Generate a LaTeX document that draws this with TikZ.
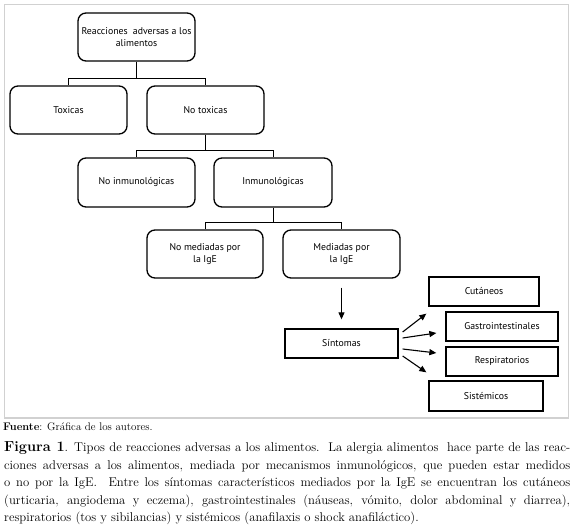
\documentclass[tikz,border=0pt]{standalone}
\usepackage{fontspec}
\newfontfamily\boxfont{PT Sans}
\usetikzlibrary{arrows.meta}
\begin{document}
\begin{tikzpicture}[x=1pt,y=-1pt,
  rbox/.style={draw=black, line width=1.3pt, rounded corners=8pt, minimum width=117pt, minimum height=48pt, inner sep=0pt, align=center, font=\boxfont\fontsize{9.8}{12.5}\selectfont},
  sbox/.style={draw=black, line width=1.3pt, minimum height=29pt, inner sep=0pt, align=center, font=\boxfont\fontsize{9.8}{12.5}\selectfont},
  tree/.style={line width=1pt},
  arr/.style={line width=1.1pt, -{Triangle[length=7pt,width=6pt]}},
  capline/.style={anchor=base west, inner sep=0pt, font=\fontsize{12.7}{17.5}\selectfont}]
\useasboundingbox (0,0) rectangle (574,526);
\draw[black!18, line width=1.5pt] (4.5,4.5) rectangle (568.5,418);

\node[rbox] (top) at (136.5,37) {Reacciones\ \ adversas a los\\alimentos};
\node[rbox] (tox) at (68.5,110) {Toxicas};
\node[rbox] (notox) at (205.5,110) {No toxicas};
\node[rbox, minimum height=49pt] (noinm) at (136.5,182.5) {No inmunológicas};
\node[rbox, minimum height=49pt, minimum width=118pt] (inm) at (273,182.5) {Inmunológicas};
\node[rbox, minimum width=116pt] (nomed) at (205,254) {No mediadas por\\la IgE};
\node[rbox] (med) at (341.5,254) {Mediadas por\\la IgE};
\node[sbox, minimum width=113pt] (sint) at (341.5,343.5) {Síntomas};
\node[sbox, minimum width=110pt] (cut) at (484,291.5) {Cutáneos};
\node[sbox, minimum width=112pt] (gas) at (502,326.5) {Gastrointestinales};
\node[sbox, minimum width=112pt] (resp) at (502,361.5) {Respiratorios};
\node[sbox, minimum width=114pt, minimum height=30pt] (sist) at (486,396) {Sistémicos};

\coordinate (j1) at ([yshift=-17pt]top.south);
\draw[tree] (top.south) -- (j1);
\draw[tree] (tox.north) |- (j1) -| (notox.north);
\coordinate (j2) at ([yshift=-16pt]notox.south);
\draw[tree] (notox.south) -- (j2);
\draw[tree] (noinm.north) |- (j2) -| (inm.north);
\coordinate (j3) at ([yshift=-15pt]inm.south);
\draw[tree] (inm.south) -- (j3);
\draw[tree] (nomed.north) |- (j3) -| (med.north);

\draw[arr, shorten <=9pt, shorten >=9pt] (med.south) -- (sint.north);
\draw[arr] ([xshift=4pt,yshift=11.5pt]sint.east) -- ([xshift=-2pt,yshift=-7pt]cut.south west);
\draw[arr] ([xshift=4pt,yshift=5.5pt]sint.east) -- ([xshift=-9pt,yshift=-6.5pt]gas.west);
\draw[arr] ([xshift=4pt,yshift=-5.5pt]sint.east) -- ([xshift=-9pt,yshift=8.5pt]resp.west);
\draw[arr] ([xshift=4pt,yshift=-12.5pt]sint.east) -- ([xshift=-2pt,yshift=8pt]sist.north west);

\node[anchor=base west, inner sep=0pt, font=\fontsize{11}{13}\selectfont] (fuente) at (3,431) {\textbf{Fuente}: Gráfica de los autores.};
\node[capline] (l1) at (4,452) {\makebox[566pt][s]{{\fontsize{14.5}{17}\selectfont\bfseries Figura 1}. Tipos de reacciones adversas a los alimentos.\ \ La alergia alimentos\ \ hace parte de las reac-}};
\node[capline] (l2) at (4,469.5) {\makebox[566pt][s]{ciones adversas a los alimentos, mediada por mecanismos inmunológicos, que pueden estar medidos}};
\node[capline] (l3) at (4,487) {\makebox[566pt][s]{o no por la IgE.\ \ Entre los síntomas característicos mediados por la IgE se encuentran los cutáneos}};
\node[capline] (l4) at (4,504.5) {\makebox[566pt][s]{(urticaria, angiodema y eczema), gastrointestinales (náuseas, vómito, dolor abdominal y diarrea),}};
\node[capline] (l5) at (4,522) {respiratorios (tos y sibilancias) y sistémicos (anafilaxis o shock anafiláctico).};
\end{tikzpicture}
\end{document}
